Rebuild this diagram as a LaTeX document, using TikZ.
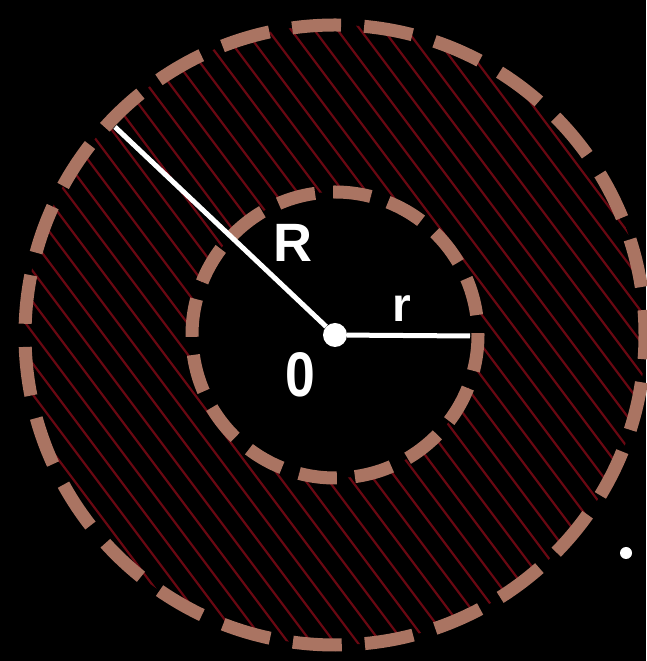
\documentclass[tikz,border=0pt]{standalone}
\usepackage{fontspec}
\setmainfont{Liberation Sans}
\usetikzlibrary{calc}
\definecolor{dashtan}{RGB}{170,116,98}
\definecolor{hatchred}{RGB}{105,8,18}
\begin{document}
\begin{tikzpicture}[x=1pt, y=1pt,
        ring/.style={draw=dashtan, line width=13pt},
        radiusline/.style={draw=white, line width=5pt},
        letter/.style={text=white, inner sep=0pt, font=\bfseries\fontsize{54}{54}\selectfont}]
    % Background
    \fill[black] (0,0) rectangle (646,661);
    \useasboundingbox (0,0) rectangle (646,661);
    \coordinate (C) at (335,326);

    % Hatching
    \begin{scope}
        \clip (C) circle (310);
        \foreach \i in {-18,...,18}
            \draw[hatchred, line width=2.2pt] ($(C)+(0.8*18.5*\i,0.6*18.5*\i)+(-0.6*340,0.8*340)$) -- ++(0.6*680,-0.8*680);
    \end{scope}
    \fill[black] (C) circle (143);

    % Rings
    \draw[ring, dash pattern=on 49pt off 23.14pt, dash phase=24pt] (C) circle (310);
    \draw[ring, dash pattern=on 38pt off 18.16pt, dash phase=-20pt] (C) circle (143);

    % Nodes
    \node[circle, fill=white, inner sep=0pt, minimum size=24pt] (O) at (C) {};
    \coordinate (A) at (115,534);
    \coordinate (B) at (470,325);
    \node[circle, fill=white, inner sep=0pt, minimum size=12pt] (dot) at (626,108) {};
    \node[letter] (Rlab) at (293,418) {R};
    \node[letter, font=\bfseries\fontsize{48}{48}\selectfont] (rlab) at (402,352) {r};
    \node[letter, font=\bfseries\fontsize{63}{63}\selectfont, xscale=0.85] (Olab) at (300,286) {0};

    % Edges
    \draw[radiusline] (O) -- (A);
    \draw[radiusline] (O) -- (B);
\end{tikzpicture}
\end{document}
